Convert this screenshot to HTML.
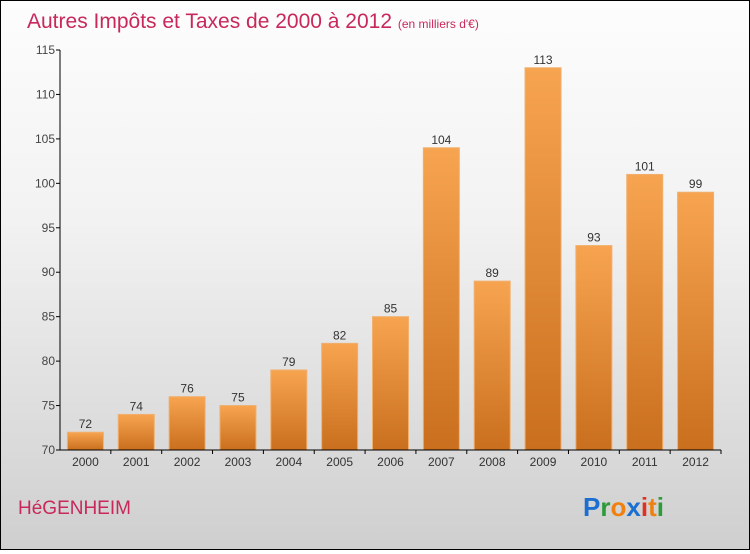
<!DOCTYPE html>
<html><head><meta charset="utf-8"><style>
html,body{margin:0;padding:0}
body{width:750px;height:550px;overflow:hidden;font-family:"Liberation Sans",sans-serif}
#wrap{position:relative;width:748px;height:548px;border:1px solid #000;background:linear-gradient(#fdfdfd,#f2f2f2 40%,#cfcfcf)}
</style></head><body>
<div id="wrap">
<svg id="chart" width="748" height="548">
<defs><linearGradient id="bg" x1="0" y1="0" x2="0" y2="1"><stop offset="0" stop-color="#f7a450"/><stop offset="1" stop-color="#c96f1e"/></linearGradient></defs>
<text x="26" y="27" font-size="21" fill="#c8285a">Autres Impôts et Taxes de 2000 à 2012 <tspan font-size="12">(en milliers d'€)</tspan></text>
<text x="17" y="513" font-size="19" fill="#c8285a">HéGENHEIM</text>
<g font-size="26" font-weight="bold" font-family="'Liberation Sans',sans-serif">
<text x="582" y="515"><tspan fill="#1a6fd0">P</tspan><tspan fill="#2e9a3a">r</tspan><tspan fill="#f08010">o</tspan><tspan fill="#1a6fd0">x</tspan><tspan fill="#e03020">i</tspan><tspan fill="#f08010">t</tspan><tspan fill="#2e9a3a">i</tspan></text></g>
<g id="plot"></g>
</svg>
</div>
<script>
const categories=["2000","2001","2002","2003","2004","2005","2006","2007","2008","2009","2010","2011","2012"];
const values=[72,74,76,75,79,82,85,104,89,113,93,101,99];
const yTicks=[70,75,80,85,90,95,100,105,110,115];
const NS="http://www.w3.org/2000/svg";
const g=document.getElementById("plot");
const x0=59,x1=720,yMin=70,yMax=115,yB=449,yT=49;
const band=(x1-x0)/categories.length;
const y=v=>yB-(v-yMin)/(yMax-yMin)*(yB-yT);
const xc=i=>x0+band*(i+0.5);
function el(t,a){const e=document.createElementNS(NS,t);for(const k in a)e.setAttribute(k,a[k]);g.appendChild(e);return e;}
yTicks.forEach(t=>{
 const l=el("line",{x1:x0-4,x2:x0,y1:y(t),y2:y(t),stroke:"#000"});
 
 
 const tx=el("text",{x:x0-5,y:y(t)+4,"font-size":12,fill:"#444","text-anchor":"end"});
 tx.textContent=t;
 
 
});
values.forEach((v,i)=>{
 const r=el("rect",{x:xc(i)-18,y:y(v),width:36,height:yB-y(v),fill:"url(#bg)",stroke:"#f0b070","stroke-width":1});
 
 
 const lb=el("text",{x:xc(i),y:y(v)-4,"font-size":12,fill:"#333","text-anchor":"middle"});
 lb.textContent=v;
 
 
 const tl=el("line",{x1:xc(i)+band/2,x2:xc(i)+band/2,y1:yB,y2:yB+4,stroke:"#000"});
 
 
 const cl=el("text",{x:xc(i),y:yB+16,"font-size":12,fill:"#333","text-anchor":"middle"});
 cl.textContent=categories[i];
 
 
});
const ya=el("line",{x1:x0,x2:x0,y1:yT,y2:yB,stroke:"#000"});


const xa=el("line",{x1:x0,x2:x1,y1:yB,y2:yB,stroke:"#000"});


</script>
</body></html>
